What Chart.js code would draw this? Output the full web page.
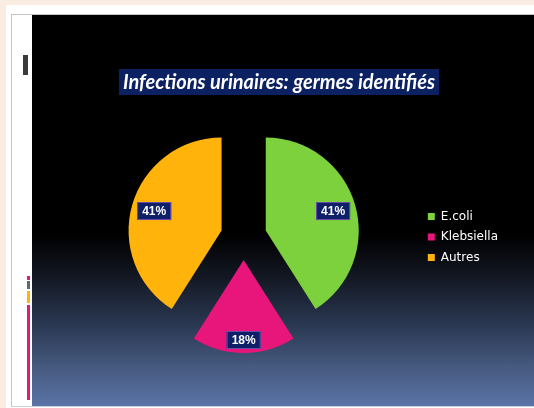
<!DOCTYPE html>
<html>
<head>
<meta charset="utf-8">
<script src="https://cdn.jsdelivr.net/npm/chart.js@4"></script>
<style>
  html, body { margin: 0; padding: 0; }
  body { width: 534px; height: 408px; background: #fbece1; position: relative; overflow: hidden; }
  .panel { position: absolute; left: 6px; top: 5px; right: 0; bottom: 0; background: #fff; }
  .frame { position: absolute; left: 11px; top: 14px; right: 0; bottom: 1px; border-left: 1px solid #c4c4c4; border-top: 1px solid #c4c4c4; border-bottom: 1px solid #c9d2e2; }
  .slide { position: absolute; left: 32px; top: 15px; width: 502px; height: 391px;
    background: linear-gradient(to bottom, #000 0%, #000 56%, #151a26 68%, #2c3a55 80%, #46597f 90%, #5a74a6 100%); }
  .thumb { position: absolute; }
  canvas { display: block; }
</style>
</head>
<body>
<div class="panel"></div>
<div class="frame"></div>
<div class="thumb" style="left:23px;top:55px;width:5px;height:20px;background:#3a3a3a;"></div>
<div class="thumb" style="left:27px;top:276px;width:3px;height:4px;background:#e8157a;"></div>
<div class="thumb" style="left:27px;top:281px;width:3px;height:8px;background:#5c6878;"></div>
<div class="thumb" style="left:27px;top:291px;width:3px;height:12px;background:#ffb30b;"></div>
<div class="thumb" style="left:27px;top:305px;width:3px;height:95px;background:#e8157a;"></div>
<div class="slide"><canvas id="myChart" width="502" height="391"></canvas></div>
<script>
const categories = ["E.coli", "Klebsiella", "Autres"];
const percentages = [41, 18, 41];
const sliceColors = ["#7dd13c", "#e8157a", "#ffb30b"];
const chartTitle = "Infections urinaires: germes identifiés";

const explodePx = 23;

// chart.js "offset" also grows and narrows the arc, so move the slices ourselves
const explodePlugin = {
    id: "explode",
    beforeDatasetDraw: (chart, args) => {
        const ctx = chart.ctx;
        args.meta.data.forEach((arc) => {
            const mid = (arc.startAngle + arc.endAngle) / 2;
            ctx.save();
            ctx.translate(Math.cos(mid) * explodePx, Math.sin(mid) * explodePx);
            arc.draw(ctx);
            ctx.restore();
        });
        return false;
    },
};

// title with its navy box, drawn in the space kept by layout padding
const titleBoxPlugin = {
    id: "titleBox",
    afterDraw: (chart) => {
        const ctx = chart.ctx;
        ctx.save();
        ctx.font = "italic bold 20px Lato";
        const w = ctx.measureText(chartTitle).width + 8;
        const cx = 247;
        const cy = 67;
        ctx.fillStyle = "#0b2161";
        ctx.fillRect(cx - w / 2, cy - 13, w, 26);
        ctx.fillStyle = "#ffffff";
        ctx.textAlign = "center";
        ctx.textBaseline = "middle";
        ctx.fillText(chartTitle, cx, cy + 1);
        ctx.restore();
    },
};

// percentage labels inside the end of each slice
const sliceLabelsPlugin = {
    id: "sliceLabels",
    afterDatasetsDraw: (chart) => {
        const ctx = chart.ctx;
        const meta = chart.getDatasetMeta(0);
        const data = chart.data.datasets[0].data;
        const total = data.reduce((a, b) => a + b, 0);
        ctx.save();
        ctx.font = "bold 12px 'Liberation Sans'";
        ctx.textAlign = "center";
        ctx.textBaseline = "middle";
        meta.data.forEach((arc, i) => {
            const mid = (arc.startAngle + arc.endAngle) / 2;
            const cx = arc.x + Math.cos(mid) * explodePx;
            const cy = arc.y + Math.sin(mid) * explodePx;
            const text = Math.round(data[i] / total * 100) + "%";
            const bw = ctx.measureText(text).width + 10;
            const bh = 18;
            const reach = Math.abs(Math.cos(mid)) * bw / 2 + Math.abs(Math.sin(mid)) * bh / 2 + 4;
            const r = arc.outerRadius - reach;
            const lx = cx + Math.cos(mid) * r;
            const ly = cy + Math.sin(mid) * r;
            ctx.fillStyle = "#0d1f66";
            ctx.fillRect(lx - bw / 2, ly - bh / 2, bw, bh);
            ctx.strokeStyle = "#6b4aa8";
            ctx.lineWidth = 1;
            ctx.strokeRect(lx - bw / 2 + 0.5, ly - bh / 2 + 0.5, bw - 1, bh - 1);
            ctx.fillStyle = "#ffffff";
            ctx.fillText(text, lx, ly + 1);
        });
        ctx.restore();
    },
};

const ctx = document.getElementById("myChart").getContext("2d");
const myChart = new Chart(ctx, {
    type: "pie",
    data: {
        labels: categories,
        datasets: [
            {
                data: percentages,
                backgroundColor: sliceColors,
                borderWidth: 0,
            },
        ],
    },
    options: {
        responsive: false,
        animation: false,
        radius: 93,
        layout: { padding: { left: 36, right: 26, top: 89, bottom: 36 } },
        plugins: {
            title: { display: false },
            legend: {
                position: "right",
                fullSize: false,
                labels: {
                    color: "#ffffff",
                    boxWidth: 7,
                    boxHeight: 7,
                    padding: 8.5,
                    font: { family: "DejaVu Sans", size: 12, lineHeight: 1.2 },
                },
            },
            tooltip: { enabled: false },
        },
    },
    plugins: [explodePlugin, titleBoxPlugin, sliceLabelsPlugin],
});
</script>
</body>
</html>
